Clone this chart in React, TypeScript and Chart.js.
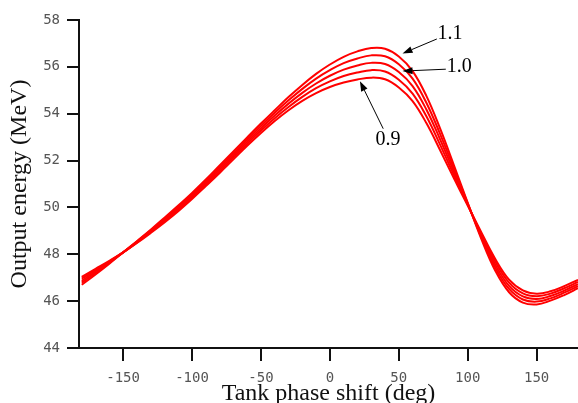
import React, { useEffect, useRef } from 'react';
import { Chart, registerables } from 'chart.js';

Chart.register(...registerables);

// Tank phase shift (deg)
const phaseDeg = [
  -180, -170, -160, -150, -140, -130, -120, -110, -100, -90, -80, -70, -60, -50, -40, -30, -20, -10,
  0, 10, 20, 30, 40, 50, 60, 70, 80, 90, 100, 110, 120, 130, 140, 150, 160, 170, 180,
];

// Output energy (MeV) for each amplitude factor
const energy090 = [
  47.04, 47.38, 47.72, 48.08, 48.48, 48.91, 49.36, 49.84, 50.36, 50.91, 51.47, 52.05, 52.63, 53.18, 53.69, 54.15, 54.55, 54.88,
  55.14, 55.33, 55.46, 55.54, 55.47, 55.12, 54.54, 53.6, 52.44, 51.24, 50.08, 48.92, 47.8, 46.92, 46.46, 46.32, 46.42, 46.64, 46.91,
];
const energy095 = [
  46.96, 47.32, 47.69, 48.08, 48.5, 48.95, 49.41, 49.9, 50.42, 50.98, 51.55, 52.14, 52.72, 53.28, 53.81, 54.29, 54.72, 55.09,
  55.38, 55.61, 55.76, 55.86, 55.8, 55.45, 54.86, 53.89, 52.67, 51.38, 50.11, 48.85, 47.68, 46.79, 46.33, 46.21, 46.32, 46.55, 46.82,
];
const energy100 = [
  46.87, 47.26, 47.66, 48.08, 48.52, 48.98, 49.46, 49.96, 50.49, 51.05, 51.63, 52.22, 52.81, 53.38, 53.92, 54.43, 54.89, 55.29,
  55.62, 55.88, 56.06, 56.17, 56.12, 55.78, 55.18, 54.18, 52.9, 51.52, 50.14, 48.78, 47.55, 46.65, 46.2, 46.09, 46.22, 46.45, 46.73,
];
const energy105 = [
  46.79, 47.2, 47.63, 48.08, 48.54, 49.02, 49.51, 50.02, 50.56, 51.12, 51.71, 52.3, 52.9, 53.48, 54.04, 54.57, 55.06, 55.5,
  55.86, 56.16, 56.36, 56.49, 56.45, 56.11, 55.5, 54.47, 53.13, 51.66, 50.17, 48.71, 47.43, 46.52, 46.07, 45.98, 46.12, 46.36, 46.64,
];
const energy110 = [
  46.7, 47.14, 47.6, 48.08, 48.56, 49.05, 49.56, 50.08, 50.62, 51.19, 51.79, 52.39, 52.99, 53.58, 54.15, 54.71, 55.23, 55.7,
  56.1, 56.43, 56.66, 56.8, 56.77, 56.44, 55.82, 54.76, 53.36, 51.8, 50.2, 48.64, 47.3, 46.38, 45.94, 45.86, 46.02, 46.26, 46.55,
];

const seriesLabels = ['0.9', '0.95', '1.0', '1.05', '1.1'];
const seriesValues = [energy090, energy095, energy100, energy105, energy110];

const xTickValues = [-150, -100, -50, 0, 50, 100, 150];
const yTickValues = [44, 46, 48, 50, 52, 54, 56, 58];

// Callout labels with arrows (data units)
const calloutText = ['1.1', '1.0', '0.9'];
const calloutTextX = [87.1, 93.9, 42.1];
const calloutTextY = [57.42, 55.99, 52.91];
const calloutFromX = [77.6, 84.1, 38.7];
const calloutFromY = [57.19, 55.9, 53.36];
const calloutToX = [52.7, 52.7, 21.8];
const calloutToY = [56.57, 55.82, 55.39];

const calloutPlugin = {
  id: 'callouts',
  afterDatasetsDraw(chart: any) {
    const { ctx, scales } = chart;
    const xs = scales.x;
    const ys = scales.y;
    ctx.save();
    ctx.strokeStyle = '#000';
    ctx.fillStyle = '#000';
    ctx.lineWidth = 1;
    for (let i = 0; i < calloutText.length; i++) {
      const x1 = xs.getPixelForValue(calloutFromX[i]);
      const y1 = ys.getPixelForValue(calloutFromY[i]);
      const x2 = xs.getPixelForValue(calloutToX[i]);
      const y2 = ys.getPixelForValue(calloutToY[i]);
      const ang = Math.atan2(y2 - y1, x2 - x1);
      const headLen = 10;
      const headHalf = 3.5;
      const bx = x2 - headLen * Math.cos(ang);
      const by = y2 - headLen * Math.sin(ang);
      ctx.beginPath();
      ctx.moveTo(x1, y1);
      ctx.lineTo(bx, by);
      ctx.stroke();
      ctx.beginPath();
      ctx.moveTo(x2, y2);
      ctx.lineTo(bx + headHalf * Math.sin(ang), by - headHalf * Math.cos(ang));
      ctx.lineTo(bx - headHalf * Math.sin(ang), by + headHalf * Math.cos(ang));
      ctx.closePath();
      ctx.fill();
      ctx.font = '20px "Liberation Serif", "Times New Roman", serif';
      ctx.textAlign = 'center';
      ctx.textBaseline = 'middle';
      ctx.fillText(calloutText[i], xs.getPixelForValue(calloutTextX[i]), ys.getPixelForValue(calloutTextY[i]));
    }
    ctx.restore();
  },
};

export default function App() {
  const canvasRef = useRef<HTMLCanvasElement | null>(null);

  useEffect(() => {
    if (!canvasRef.current) return;
    const datasets = seriesValues.map((vals, i) => ({
      label: seriesLabels[i],
      data: phaseDeg.map((d, j) => ({ x: d, y: vals[j] })),
      borderColor: '#ff0000',
      backgroundColor: '#ff0000',
      borderWidth: 2,
      pointRadius: 0,
      fill: false,
      tension: 0.4,
    }));

    const tickFont = { family: '"DejaVu Sans Mono", monospace', size: 14 };
    const titleFont = { family: '"Liberation Serif", "Times New Roman", serif', size: 24, lineHeight: 1 };

    const chart = new Chart(canvasRef.current, {
      type: 'line',
      data: { datasets },
      plugins: [calloutPlugin],
      options: {
        responsive: false,
        animation: false,
        devicePixelRatio: 1,
        layout: { padding: { top: 20, left: 0, right: 0, bottom: 0 } },
        plugins: {
          legend: { display: false },
          tooltip: { enabled: false },
        },
        scales: {
          x: {
            type: 'linear',
            min: -182,
            max: 180,
            afterFit: (s: any) => {
              s.height = 55;
            },
            afterBuildTicks: (s: any) => {
              s.ticks = xTickValues.map((v) => ({ value: v }));
            },
            grid: {
              drawOnChartArea: false,
              drawTicks: true,
              tickLength: 13,
              tickColor: '#111',
              lineWidth: 2,
            },
            border: { display: true, color: '#111', width: 2 },
            ticks: {
              color: '#555',
              font: tickFont,
              padding: 9,
              maxRotation: 0,
              autoSkip: false,
            },
            title: {
              display: true,
              text: 'Tank phase shift (deg)',
              color: '#111',
              font: titleFont,
              padding: { top: 0, bottom: -3 },
            },
          },
          y: {
            type: 'linear',
            min: 44,
            max: 58,
            afterFit: (s: any) => {
              s.width = 79;
            },
            afterBuildTicks: (s: any) => {
              s.ticks = yTickValues.map((v) => ({ value: v }));
            },
            grid: {
              drawOnChartArea: false,
              drawTicks: true,
              tickLength: 12,
              tickColor: '#111',
              lineWidth: 2,
            },
            border: { display: true, color: '#111', width: 2 },
            ticks: {
              color: '#555',
              font: tickFont,
              padding: 7,
              autoSkip: false,
            },
            title: {
              display: true,
              text: 'Output energy (MeV)',
              color: '#111',
              font: titleFont,
              padding: { top: 8, bottom: 0 },
            },
          },
        },
      },
    });
    return () => chart.destroy();
  }, []);

  return (
    <div style={{ position: 'fixed', left: 0, top: 0, width: 578, height: 403, background: '#fff' }}>
      <canvas ref={canvasRef} width={578} height={403} style={{ display: 'block' }} />
    </div>
  );
}
